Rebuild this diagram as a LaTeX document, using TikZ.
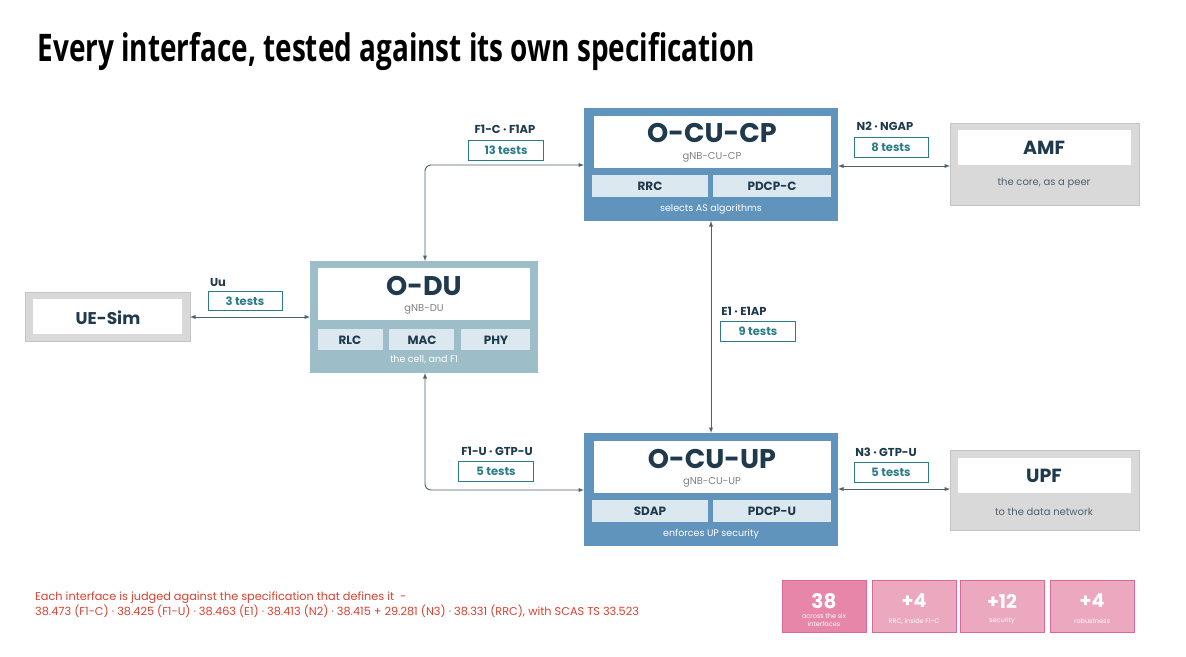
\documentclass[tikz,border=0pt]{standalone}
\usepackage{fontspec}
\setmainfont{Poppins}
\newfontfamily\titlefont{Open Sans}
\begin{document}
\definecolor{cub}{HTML}{6194BC}
\definecolor{dub}{HTML}{9DBDC9}
\definecolor{subc}{HTML}{DCE8EF}
\definecolor{dk}{HTML}{1F3A4C}
\definecolor{tl}{HTML}{2B7C87}
\definecolor{gb}{HTML}{D9D9D9}
\definecolor{gbd}{HTML}{C4C4C4}
\definecolor{pk}{HTML}{E886AA}
\definecolor{pkl}{HTML}{EBA8BE}
\definecolor{pkd}{HTML}{DC6A96}
\definecolor{rd}{HTML}{D8412F}
\begin{tikzpicture}[x=1pt,y=-1pt,
 sublab/.style={font=\bfseries\fontsize{12}{12}\selectfont,text=dk},
 capt/.style={font=\fontsize{9.5}{9.5}\selectfont,text=white},
 lab/.style={font=\bfseries\fontsize{11.5}{11.5}\selectfont,text=dk},
 tst/.style={draw=tl,fill=white,line width=0.8pt,font=\bfseries\fontsize{11.5}{11.5}\selectfont,text=tl},
 con/.style={draw=dk!80,line width=0.9pt,<->,>={latex},rounded corners=6pt},
 stat/.style={draw=pkd,line width=0.8pt,text=white}]
\useasboundingbox (0,0) rectangle (1186,656);
\fill[white] (0,0) rectangle (1186,656);
\node[anchor=west,text=black,font=\titlefont\bfseries\fontsize{38}{38}\selectfont] (title) at (34,52) {\scalebox{0.735}[1]{Every interface, tested against its own specification}};
% O-CU-CP
\fill[cub] (584,108) rectangle (838,221);
\fill[white] (594,116) rectangle (831,168);
\node[text=dk,font=\bfseries\fontsize{27}{27}\selectfont] (cpn) at (712,133) {O-CU-CP};
\node[text=gray,font=\fontsize{10}{10}\selectfont] (cps) at (712,157) {gNB-CU-CP};
\fill[subc] (592,175) rectangle (708,197); \node[sublab] (rrc) at (650,186) {RRC};
\fill[subc] (713,175) rectangle (831,197); \node[sublab] (pdc) at (772,186) {PDCP-C};
\node[capt] (cpc) at (711,209) {selects AS algorithms};
% O-CU-UP
\fill[cub] (584,433) rectangle (838,546);
\fill[white] (594,441) rectangle (831,493);
\node[text=dk,font=\bfseries\fontsize{27}{27}\selectfont] (upn) at (712,459) {O-CU-UP};
\node[text=gray,font=\fontsize{10}{10}\selectfont] (ups) at (712,482) {gNB-CU-UP};
\fill[subc] (592,500) rectangle (708,522); \node[sublab] (sdap) at (650,511) {SDAP};
\fill[subc] (713,500) rectangle (831,522); \node[sublab] (pdu) at (772,511) {PDCP-U};
\node[capt] (upc) at (711,534) {enforces UP security};
% O-DU
\fill[dub] (310,261) rectangle (538,373);
\fill[white] (318,268) rectangle (530,320);
\node[text=dk,font=\bfseries\fontsize{27}{27}\selectfont] (dun) at (424,286) {O-DU};
\node[text=gray,font=\fontsize{10}{10}\selectfont] (dus) at (424,309) {gNB-DU};
\fill[subc] (318,329) rectangle (383,350); \node[sublab] (rlc) at (350,340) {RLC};
\fill[subc] (389,329) rectangle (454,350); \node[sublab] (mac) at (422,340) {MAC};
\fill[subc] (461,329) rectangle (530,350); \node[sublab] (phy) at (496,340) {PHY};
\node[capt] (duc) at (424,360) {the cell, and F1};
% AMF
\filldraw[fill=gb,draw=gbd] (950,123) rectangle (1139,205);
\fill[white] (958,130) rectangle (1131,165);
\node[text=dk,font=\bfseries\fontsize{19}{19}\selectfont] (amf) at (1044,148) {AMF};
\node[text=dk!80,font=\fontsize{10}{10}\selectfont] (amfc) at (1044,183) {the core, as a peer};
% UPF
\filldraw[fill=gb,draw=gbd] (950,450) rectangle (1139,530);
\fill[white] (958,458) rectangle (1131,493);
\node[text=dk,font=\bfseries\fontsize{19}{19}\selectfont] (upf) at (1044,476) {UPF};
\node[text=dk!80,font=\fontsize{10}{10}\selectfont] (upfc) at (1044,512) {to the data network};
% UE-Sim
\filldraw[fill=gb,draw=gbd] (25,292) rectangle (190,341);
\fill[white] (33,299) rectangle (182,334);
\node[text=dk,font=\bfseries\fontsize{17}{17}\selectfont] (ue) at (108,318) {UE-Sim};
% anchors
\coordinate (duT) at (425,261); \coordinate (duB) at (425,373);
\coordinate (cpL) at (584,165); \coordinate (upL) at (584,490);
\coordinate (cpR) at (838,166); \coordinate (amfL) at (950,166);
\coordinate (upR) at (838,489); \coordinate (upfL) at (950,489);
\coordinate (ueR) at (190,317); \coordinate (duL) at (310,317);
\coordinate (cpB) at (711,221); \coordinate (upT) at (711,433);
\draw[con] (duT) |- (cpL);
\draw[con] (duB) |- (upL);
\draw[con] (cpR) -- (amfL);
\draw[con] (upR) -- (upfL);
\draw[con] (ueR) -- (duL);
\draw[con] (cpB) -- (upT);
% labels
\node[lab] (l1) at (505,129) {F1-C · F1AP};
\node[tst,minimum width=75pt,minimum height=20pt] (t1) at (506,150) {13 tests};
\node[lab] (l2) at (885,126) {N2 · NGAP};
\node[tst,minimum width=74pt,minimum height=20pt] (t2) at (891,147) {8 tests};
\node[lab] (l3) at (218,282) {Uu};
\node[tst,minimum width=74pt,minimum height=19pt] (t3) at (245,301) {3 tests};
\node[lab] (l4) at (744,311) {E1 · E1AP};
\node[tst,minimum width=75pt,minimum height=20pt] (t4) at (758,331) {9 tests};
\node[lab] (l5) at (497,451) {F1-U · GTP-U};
\node[tst,minimum width=75pt,minimum height=20pt] (t5) at (496,471) {5 tests};
\node[lab] (l6) at (886,452) {N3 · GTP-U};
\node[tst,minimum width=74pt,minimum height=20pt] (t6) at (891,472) {5 tests};
% footnote
\node[anchor=west,text=rd,font=\fontsize{11.3}{12.5}\selectfont,align=left,inner sep=0pt] (fn) at (35,605) {Each interface is judged against the specification that defines it \ -\\38.473 (F1-C) · 38.425 (F1-U) · 38.463 (E1) · 38.413 (N2) · 38.415 + 29.281 (N3) · 38.331 (RRC), with SCAS TS 33.523};
% stats
\filldraw[stat,fill=pk] (782,580) rectangle (866,632);
\node[text=white,font=\bfseries\fontsize{20}{20}\selectfont] (s1) at (824,601) {38};
\node[text=white,font=\fontsize{6.5}{7.5}\selectfont,align=center] (s1c) at (824,620) {across the six\\interfaces};
\filldraw[stat,fill=pkl] (872,580) rectangle (956,632);
\node[text=white,font=\bfseries\fontsize{19}{19}\selectfont] (s2) at (914,601) {+4};
\node[text=white,font=\fontsize{6.5}{6.5}\selectfont] (s2c) at (914,621) {RRC, inside F1-C};
\filldraw[stat,fill=pkl] (960,580) rectangle (1044,632);
\node[text=white,font=\bfseries\fontsize{19}{19}\selectfont] (s3) at (1002,601) {+12};
\node[text=white,font=\fontsize{6.5}{6.5}\selectfont] (s3c) at (1002,621) {security};
\filldraw[stat,fill=pkl] (1050,580) rectangle (1134,632);
\node[text=white,font=\bfseries\fontsize{19}{19}\selectfont] (s4) at (1092,601) {+4};
\node[text=white,font=\fontsize{6.5}{6.5}\selectfont] (s4c) at (1092,621) {robustness};
\end{tikzpicture}
\end{document}
